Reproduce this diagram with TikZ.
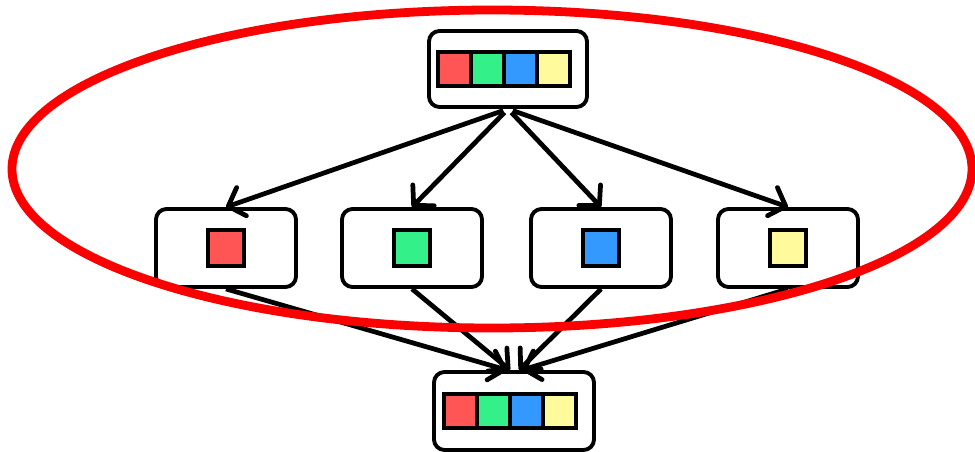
\documentclass[tikz,border=0pt]{standalone}
\usetikzlibrary{arrows.meta, positioning}
\definecolor{cRed}{RGB}{255,85,85}
\definecolor{cGreen}{RGB}{51,240,136}
\definecolor{cBlue}{RGB}{51,153,255}
\definecolor{cYellow}{RGB}{255,250,155}
\definecolor{cMark}{RGB}{250,0,0}
\tikzset{
  box/.style={rectangle, rounded corners=6pt, draw=black, line width=2.2pt,
              fill=white, inner sep=0pt},
  srcbox/.style={box, minimum width=3.16cm, minimum height=1.52cm},
  partbox/.style={box, minimum width=2.8cm, minimum height=1.56cm},
  cell/.style={rectangle, draw=black, line width=1.8pt, inner sep=0pt,
               minimum width=0.66cm, minimum height=0.68cm},
  piece/.style={cell, minimum width=0.72cm, minimum height=0.72cm},
  arrow/.style={-{Straight Barb[length=8pt, width=17pt, round]}, line width=2.7pt},
  ringline/.style={draw=cMark, line width=5pt}
}
\begin{document}
\begin{tikzpicture}
  \useasboundingbox (0,0) rectangle (19.5,9.02);

  % whole array on top, merged array at the bottom
  \node[srcbox] (src) at (10.16,7.64) {};
  \node[srcbox, minimum width=3.2cm, minimum height=1.56cm] (sink) at (10.28,0.8) {};
  \foreach \c [count=\i] in {cRed,cGreen,cBlue,cYellow} {
    \node[cell, fill=\c, xshift={(\i-2.5)*0.66cm}] (src-\i) at ([xshift=-0.08cm]src) {};
    \node[cell, fill=\c, xshift={(\i-2.5)*0.66cm}] (sink-\i) at ([xshift=-0.08cm]sink) {};
  }

  % one box per piece
  \foreach \c/\x [count=\i] in {cRed/4.52, cGreen/8.24, cBlue/12.02, cYellow/15.76} {
    \node[partbox] (part\i) at (\x,4.06) {};
    \node[piece, fill=\c] at (part\i) {};
  }

  % split
  \foreach \i in {1,...,4}
    \draw[arrow, shorten <=0.1cm] (src.south) -- (part\i.north);
  % merge, left pair and right pair meet side by side
  \foreach \i/\dx in {1/-0.14, 2/-0.08, 3/0.1, 4/0.16}
    \draw[arrow] (part\i.south) -- ([xshift=\dx cm]sink.north);

  \draw[ringline] (9.84,5.64) ellipse (9.6cm and 3.18cm);
\end{tikzpicture}
\end{document}
